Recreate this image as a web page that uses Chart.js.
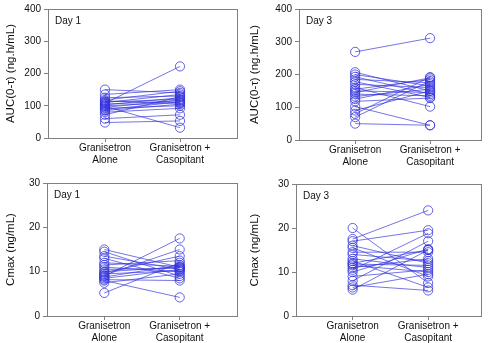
<!DOCTYPE html>
<html>
<head>
<meta charset="utf-8">
<script src="https://cdn.jsdelivr.net/npm/chart.js@4.4.1/dist/chart.umd.min.js"></script>
<style>
  body { margin: 0; background: #fff; }
  #wrap { position: relative; width: 488px; height: 343px; }
  canvas { position: absolute; }
</style>
</head>
<body>
<div id="wrap">
  <canvas id="plot1" width="244" height="172" style="left:0;top:0"></canvas>
  <canvas id="plot2" width="244" height="172" style="left:244px;top:0"></canvas>
  <canvas id="plot3" width="244" height="171" style="left:0;top:172px"></canvas>
  <canvas id="plot4" width="244" height="171" style="left:244px;top:172px"></canvas>
</div>
<script>
// categories on the x axis (multi-line labels)
let categorias = [["Granisetron", "Alone"], ["Granisetron +", "Casopitant"]];

// y tick labels
let aucTicks = [0, 100, 200, 300, 400];
let cmaxTicks = [0, 10, 20, 30];

// AUC(0-tau) per subject, Day 1
let aucDia1Solo = [108, 150, 135, 125, 118, 112, 110, 105, 103, 100, 98, 95, 92, 88, 80, 72, 60, 48, 115, 85];
let aucDia1Caso = [222, 140, 150, 130, 145, 120, 135, 115, 125, 110, 32, 118, 100, 112, 92, 128, 72, 53, 108, 105];

// AUC(0-tau) per subject, Day 3
let aucDia3Solo = [269, 207, 200, 193, 185, 178, 170, 160, 155, 150, 145, 140, 133, 125, 118, 102, 80, 70, 50, 90];
let aucDia3Caso = [311, 150, 165, 140, 175, 130, 160, 102, 185, 145, 190, 135, 155, 170, 128, 45, 192, 180, 45, 150];

// Cmax per subject, Day 1
let cmaxDia1Solo = [15, 14.5, 13.5, 13, 12, 11.5, 11, 10.5, 10, 9.8, 9.5, 9.2, 9, 8.8, 8.5, 8.2, 8, 7.5, 5.2];
let cmaxDia1Caso = [11, 9, 10.5, 8.5, 11.2, 12.5, 10, 10.8, 11, 13.5, 10.2, 15, 17.5, 11.5, 10.5, 8, 4.2, 9.5, 12];

// Cmax per subject, Day 3
let cmaxDia3Solo = [20, 17.5, 17, 16, 15.5, 14.5, 14, 13, 12.5, 12, 11.5, 11, 10.5, 10, 9, 8, 7, 6, 6.5, 11.8];
let cmaxDia3Caso = [7.5, 24, 19.5, 12, 9, 14.5, 12.5, 11, 6.5, 15, 10, 13, 18.8, 15.2, 10.5, 17, 5.8, 15, 9.5, 11.5];

let azul = "rgba(50,50,220,0.85)";
let gris = "#808080";
let fuente = "'Liberation Sans', Arial, sans-serif";

//Plugin para el marco y la etiqueta del día
let marcoPlugin = {
  id: "marco",
  afterDraw: (chart, args, opts) => {
    let a = chart.chartArea;
    let ctx = chart.ctx;
    ctx.save();
    ctx.strokeStyle = gris;
    ctx.lineWidth = 1;
    ctx.strokeRect(Math.round(a.left) + 0.5, Math.round(a.top) + 0.5,
      Math.round(a.right - a.left), Math.round(a.bottom - a.top));
    ctx.fillStyle = "#111";
    ctx.font = "10px " + fuente;
    ctx.textBaseline = "top";
    ctx.fillText(opts.texto, a.left + 7, a.top + 7);
    ctx.restore();
  },
};

let crearPanel = (id, solo, caso, ticks, titulo, dia, caja) => {
  let datasets = solo.map((v, i) => ({
    data: [{ x: 0, y: v }, { x: 1, y: caso[i] }],
    showLine: true,
    borderColor: azul,
    borderWidth: 0.8,
    pointRadius: 4.6,
    pointBorderColor: azul,
    pointBorderWidth: 0.9,
    pointBackgroundColor: "rgba(0,0,0,0)",
  }));

  let config = {
    type: "scatter",
    data: { datasets: datasets },
    plugins: [marcoPlugin],
    options: {
      responsive: false,
      animation: false,
      events: [],
      layout: { padding: { top: caja.top, right: caja.right, left: 0, bottom: 0 } },
      plugins: {
        legend: { display: false },
        tooltip: { enabled: false },
        marco: { texto: dia },
      },
      scales: {
        x: {
          type: "linear",
          min: caja.xmin,
          max: caja.xmax,
          afterBuildTicks: (s) => { s.ticks = categorias.map((c, i) => ({ value: i })); },
          afterFit: (s) => { s.height = caja.abajo; },
          grid: { drawOnChartArea: false, drawTicks: true, tickLength: 4, color: gris },
          border: { color: gris },
          ticks: {
            color: "#111",
            font: { family: fuente, size: 10, lineHeight: 1.2 },
            padding: 0,
            maxRotation: 0,
            autoSkip: false,
            callback: (v) => categorias[v],
          },
        },
        y: {
          min: ticks[0],
          max: ticks[ticks.length - 1],
          afterBuildTicks: (s) => { s.ticks = ticks.map((t) => ({ value: t })); },
          afterFit: (s) => { s.width = caja.izq; },
          grid: { drawOnChartArea: false, drawTicks: true, tickLength: 4, color: gris },
          border: { color: gris },
          ticks: { color: "#111", font: { family: fuente, size: 10 }, padding: 3 },
          title: {
            display: true,
            text: titulo,
            color: "#111",
            font: { family: fuente, size: 11.5 },
            padding: { top: 4, bottom: 0 },
          },
        },
      },
    },
  };

  new Chart(document.getElementById(id), config);
};

crearPanel("plot1", aucDia1Solo, aucDia1Caso, aucTicks, "AUC(0-τ) (ng.h/mL)", "Day 1",
  { izq: 48, top: 5, right: 7, abajo: 34, xmin: -0.76, xmax: 1.76 });
crearPanel("plot2", aucDia3Solo, aucDia3Caso, aucTicks, "AUC(0-τ) (ng.h/mL)", "Day 3",
  { izq: 55, top: 7, right: 7, abajo: 32, xmin: -0.75, xmax: 1.68 });
crearPanel("plot3", cmaxDia1Solo, cmaxDia1Caso, cmaxTicks, "Cmax (ng/mL)", "Day 1",
  { izq: 47, top: 11, right: 7, abajo: 27, xmin: -0.76, xmax: 1.76 });
crearPanel("plot4", cmaxDia3Solo, cmaxDia3Caso, cmaxTicks, "Cmax (ng/mL)", "Day 3",
  { izq: 52, top: 12, right: 7, abajo: 27, xmin: -0.75, xmax: 1.7 });
</script>
</body>
</html>
